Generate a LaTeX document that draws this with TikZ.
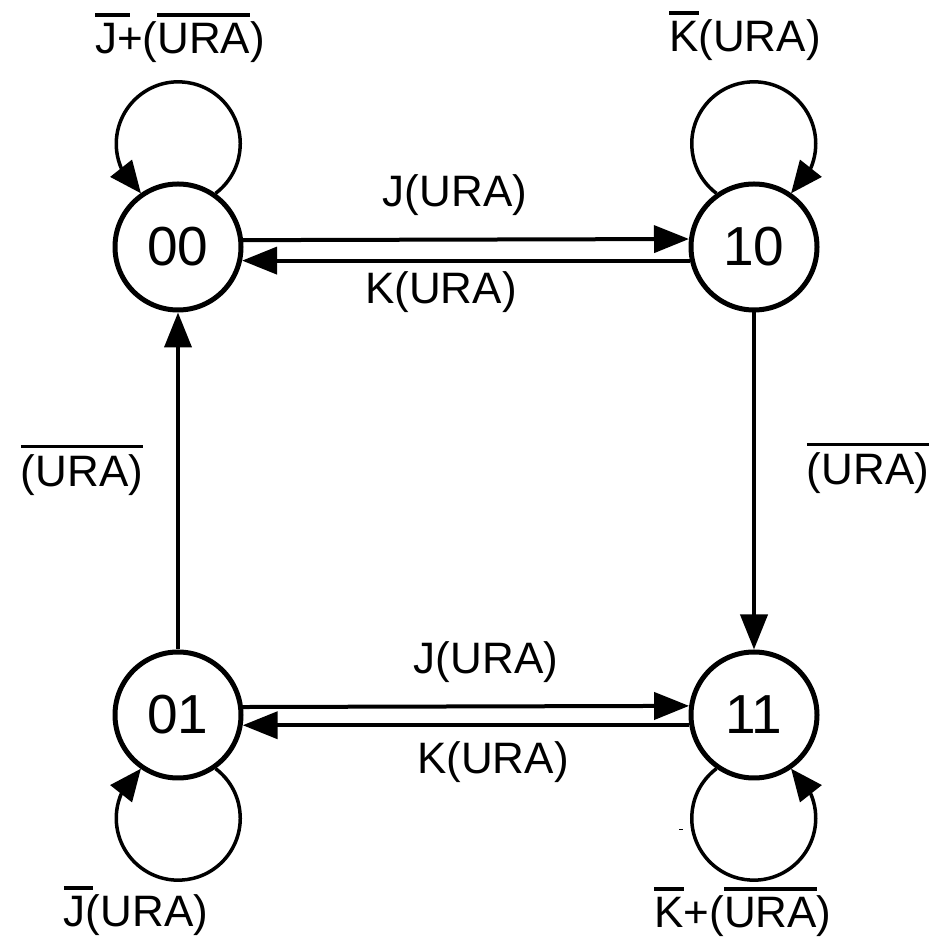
\documentclass[tikz,border=0pt]{standalone}
\usepackage{fontspec}
\setmainfont{Liberation Sans}
\usetikzlibrary{arrows.meta,bending}

% overlined text: a rule set above the box, baseline kept
\newcommand\ovbar[1]{\leavevmode\vbox{\hrule height 3.5pt\kern 7pt\hbox{#1}}}
% overline of a given length laid over the text without changing its width
\newcommand\ovbarw[2]{\leavevmode\rlap{\vbox{\hrule height 3.5pt width #1\kern 7pt\hbox{\phantom{#2}}}}#2}

\begin{document}
\begin{tikzpicture}[x=1pt,y=1pt,
  state/.style={circle,draw,line width=5pt,minimum size=126pt,inner sep=0pt,
    outer sep=2.5pt,font=\fontsize{55}{60}\selectfont},
  conn/.style={line width=4pt,-{Triangle[length=35pt,width=27pt]}},
  loopline/.style={line width=3.5pt,-{Triangle[length=32pt,width=27pt]}},
  lbl/.style={inner sep=0pt,anchor=base,font=\fontsize{44}{48}\selectfont}]
\useasboundingbox (0,0) rectangle (930,948);

% states
\node[state] (n00) at (178,701) {00};
\node[state] (n10) at (754,701) {10};
\node[state] (n01) at (178,233) {01};
\node[state] (n11) at (754,233) {11};

% self loops
\draw[loopline] (n00.55) arc[start angle=-53, end angle=233, radius=62];
\draw[loopline] (n10.125) arc[start angle=233, end angle=-53, radius=62];
\draw[loopline] (n01.-55) arc[start angle=53, end angle=-233, radius=62];
\draw[loopline] (n11.-125) arc[start angle=127, end angle=413, radius=62];

% transitions between states
\draw[conn] (n00.6.2) -- (n10.173.8);
\draw[conn] (n10.192.4) -- (n00.-12.4);
\draw[conn] (n01.7.9) -- (n11.172.1);
\draw[conn] (n11.189.7) -- (n01.-9.7);
\draw[conn] (n01.north) -- (n00.south);
\draw[conn] (n10.south) -- (n11.north);

% transition conditions
\node[lbl] (l00) at (180,894) {\ovbarw{35pt}{J}+(\ovbar{URA})};
\node[lbl] (l10) at (745,896) {\ovbar{K}(URA)};
\node[lbl] (ljt) at (455,741) {J(URA)};
\node[lbl] (lkt) at (441,644) {K(URA)};
\node[lbl] (lul) at (82,461) {\ovbar{(URA)}};
\node[lbl] (lur) at (868,463) {\ovbar{(URA)}};
\node[lbl] (ljb) at (486,274) {J(URA)};
\node[lbl] (lkb) at (493,174) {K(URA)};
\node[lbl] (l01) at (136,21) {\ovbarw{29pt}{J}(URA)};
\node[lbl] (l11) at (743,20) {\ovbar{K}+(\ovbar{URA})};

% short stray tick beside the lower right loop
\draw[line width=1pt] (679,118) -- (683,118);
\end{tikzpicture}
\end{document}
